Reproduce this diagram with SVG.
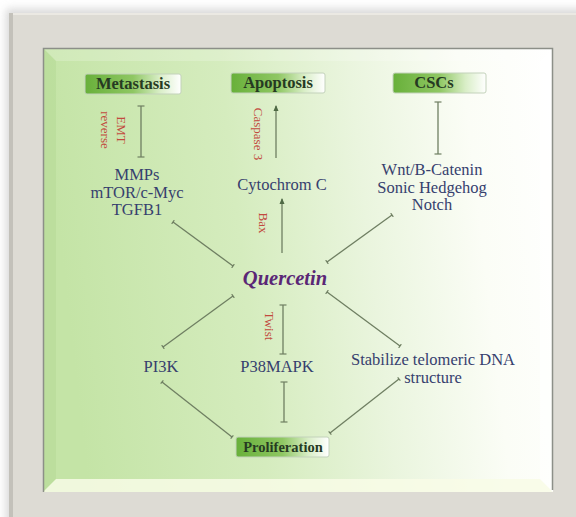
<svg xmlns="http://www.w3.org/2000/svg" width="576" height="517" viewBox="0 0 576 517">
  <defs>
    <linearGradient id="panelGrad" x1="0" y1="0.1" x2="1" y2="0" gradientUnits="objectBoundingBox">
      <stop offset="0" stop-color="#c4e4a6"/>
      <stop offset="0.35" stop-color="#d5ecbe"/>
      <stop offset="0.6" stop-color="#eaf5de"/>
      <stop offset="0.82" stop-color="#fbfdf6"/>
      <stop offset="1" stop-color="#ffffff"/>
    </linearGradient>
    <linearGradient id="boxGrad" x1="0" y1="0" x2="1" y2="0">
      <stop offset="0" stop-color="#68b03a"/>
      <stop offset="0.5" stop-color="#8fc763"/>
      <stop offset="0.78" stop-color="#d9eec7"/>
      <stop offset="1" stop-color="#ffffff"/>
    </linearGradient>
    <filter id="shadow" x="-5%" y="-5%" width="110%" height="110%">
      <feGaussianBlur stdDeviation="4"/>
    </filter>
    <marker id="tick" viewBox="-1 -4 2 8" refX="0" refY="0" markerWidth="2" markerHeight="8" markerUnits="userSpaceOnUse" orient="auto">
      <path d="M0,-3.5 L0,3.5" stroke="#6f7f62" stroke-width="1.2"/>
    </marker>
    <marker id="tickS" viewBox="-1 -3 2 6" refX="0" refY="0" markerWidth="2" markerHeight="6" markerUnits="userSpaceOnUse" orient="auto">
      <path d="M0,-2.2 L0,2.2" stroke="#6f7f62" stroke-width="1.2"/>
    </marker>
    <marker id="arrow" viewBox="0 -3 6 6" refX="5" refY="0" markerWidth="6" markerHeight="6" markerUnits="userSpaceOnUse" orient="auto">
      <path d="M0,-2.5 L6,0 L0,2.5 Z" fill="#4f6a45"/>
    </marker>
    <style>
      .conn { stroke: #6f7f62; stroke-width: 1.3; fill: none; }
      .inh { marker-start: url(#tick); marker-end: url(#tick); }
      .diag { marker-start: url(#tickS); marker-end: url(#tickS); }
      .act { marker-end: url(#arrow); }
      .box { fill: url(#boxGrad); stroke: #c3d2bb; stroke-width: 1; }
      .boxtxt { font-family: "Liberation Serif", "Times New Roman", serif; font-weight: bold; fill: #263a22; text-anchor: middle; }
      .node { font-family: "Liberation Serif", "Times New Roman", serif; font-size: 16.5px; fill: #36406e; text-anchor: middle; }
      .lab { font-family: "Liberation Serif", "Times New Roman", serif; font-size: 13px; fill: #c24a3e; text-anchor: middle; }
    </style>
  </defs>

  <!-- background and frame -->
  <rect x="0" y="0" width="576" height="517" fill="#ffffff"/>
  <rect x="6" y="9" width="580" height="520" fill="#bdbdbd" filter="url(#shadow)" opacity="0.6"/>
  <rect x="9" y="13" width="567" height="504" fill="#dddbd4"/>
  <rect x="9" y="13" width="4" height="504" fill="#c3c1ba"/>
  <rect x="13" y="13" width="563" height="2" fill="#ebe9e3"/>

  <!-- inner panel -->
  <rect x="43" y="48" width="510" height="444" fill="url(#panelGrad)"/>
  <polygon points="43,48 56,61 56,479 43,492" fill="#a8cf88" opacity="0.3"/>
  <polygon points="43,48 553,48 540,61 56,61" fill="#ffffff" opacity="0.2"/>
  <polygon points="43,492 553,492 540,479 56,479" fill="#f8fce6" opacity="0.85"/>
  <polygon points="553,48 553,492 540,479 540,61" fill="#ffffff" opacity="0.5"/>
  <path d="M43.5,492 L43.5,48.5 L552.5,48.5 L552.5,490" fill="none" stroke="#8c8f88" stroke-width="1.5"/>

  <!-- connectors -->
  <g id="connectors">
    <line class="conn inh" x1="141" y1="106" x2="141" y2="157"/>
    <line class="conn act" x1="276" y1="158" x2="276" y2="106"/>
    <line class="conn act" x1="282" y1="253" x2="282" y2="199"/>
    <line class="conn inh" x1="438" y1="102" x2="438" y2="154"/>
    <line class="conn diag" x1="233" y1="266" x2="173" y2="222"/>
    <line class="conn diag" x1="327" y1="262" x2="392" y2="215"/>
    <line class="conn diag" x1="233" y1="296" x2="163" y2="347"/>
    <line class="conn diag" x1="327" y1="292" x2="400" y2="346"/>
    <line class="conn inh" x1="283" y1="305" x2="283" y2="354"/>
    <line class="conn diag" x1="162" y1="382" x2="232" y2="437"/>
    <line class="conn inh" x1="284" y1="382" x2="284" y2="422"/>
    <line class="conn diag" x1="399" y1="379" x2="330" y2="433"/>
    <text class="lab" transform="translate(117,130) rotate(90)">EMT</text>
    <text class="lab" transform="translate(101,130) rotate(90)">reverse</text>
    <text class="lab" transform="translate(254,134) rotate(90)">Caspase 3</text>
    <text class="lab" transform="translate(259,223) rotate(90)">Bax</text>
    <text class="lab" transform="translate(265,326) rotate(90)">Twist</text>
  </g>

  <!-- nodes -->
  <g id="metastasis">
    <rect class="box" x="85" y="74" width="96" height="20" rx="2"/>
    <text class="boxtxt" x="133" y="89" font-size="16.5">Metastasis</text>
  </g>
  <g id="apoptosis">
    <rect class="box" x="231" y="73" width="94" height="20" rx="2"/>
    <text class="boxtxt" x="278" y="88" font-size="16.5">Apoptosis</text>
  </g>
  <g id="cscs">
    <rect class="box" x="393" y="73" width="93" height="20" rx="2"/>
    <text class="boxtxt" x="434" y="88" font-size="16.5">CSCs</text>
  </g>
  <g id="mmps">
    <text class="node" x="137" y="180">MMPs</text>
    <text class="node" x="137" y="197.5">mTOR/c-Myc</text>
    <text class="node" x="137" y="215">TGFB1</text>
  </g>
  <g id="cytochrom">
    <text class="node" x="282" y="190">Cytochrom C</text>
  </g>
  <g id="wnt">
    <text class="node" x="432" y="175">Wnt/B-Catenin</text>
    <text class="node" x="432" y="192.5">Sonic Hedgehog</text>
    <text class="node" x="432" y="210">Notch</text>
  </g>
  <g id="quercetin">
    <text x="285" y="285" font-family="Liberation Serif, Times New Roman, serif" font-size="20.5" font-weight="bold" font-style="italic" fill="#5a2776" text-anchor="middle">Quercetin</text>
  </g>
  <g id="pi3k">
    <text class="node" x="161" y="372">PI3K</text>
  </g>
  <g id="p38mapk">
    <text class="node" x="277" y="372">P38MAPK</text>
  </g>
  <g id="telomeric">
    <text class="node" x="433" y="365">Stabilize telomeric DNA</text>
    <text class="node" x="433" y="383">structure</text>
  </g>
  <g id="proliferation">
    <rect class="box" x="236" y="437" width="93" height="20" rx="2"/>
    <text class="boxtxt" x="283" y="452" font-size="14.5">Proliferation</text>
  </g>
</svg>
